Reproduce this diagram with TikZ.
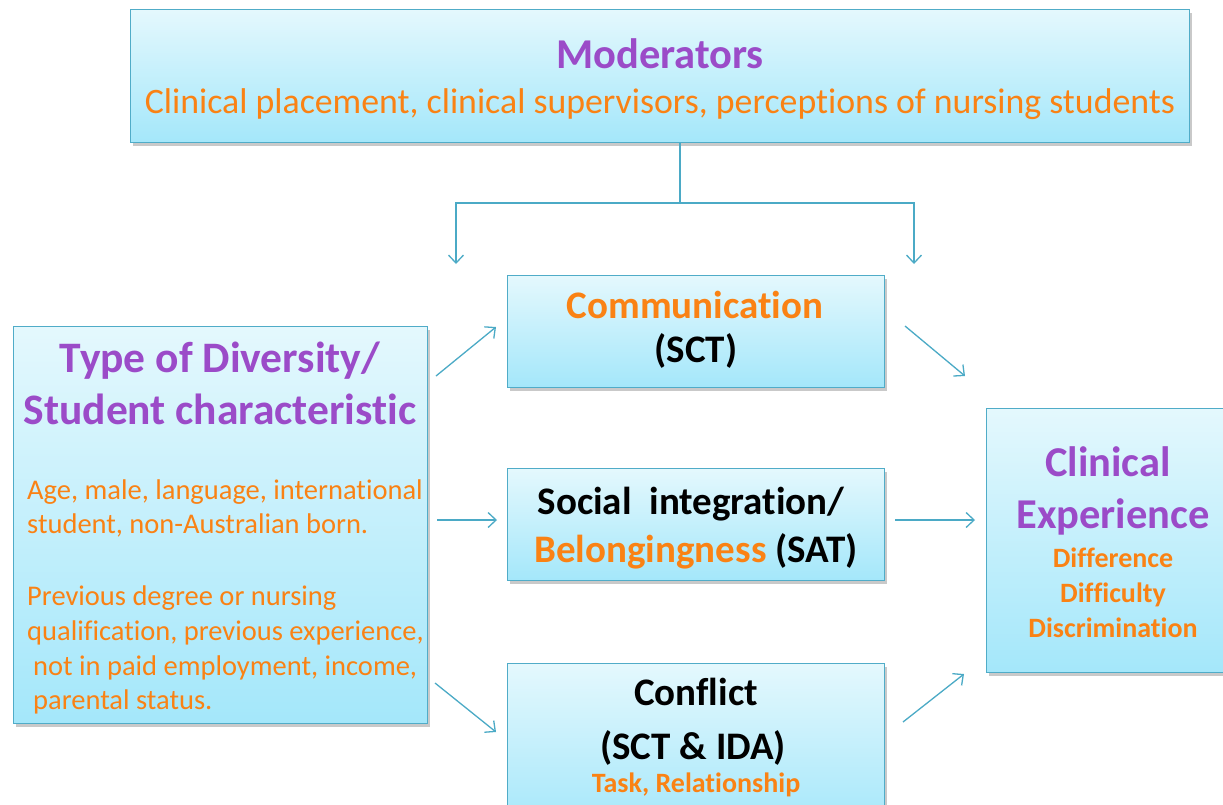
\documentclass[tikz,border=0pt]{standalone}
\usepackage{fontspec}
\setmainfont{Carlito}[Ligatures={NoCommon}]
\usetikzlibrary{shadows,arrows.meta}
\definecolor{bord}{RGB}{80,172,200}
\definecolor{acol}{RGB}{75,170,198}
\definecolor{ftop}{RGB}{228,248,253}
\definecolor{fbot}{RGB}{164,231,250}
\definecolor{purp}{RGB}{155,75,200}
\definecolor{oran}{RGB}{250,130,20}
\tikzset{
  box/.style={draw=bord, line width=1.2pt, top color=ftop, bottom color=fbot,
    drop shadow={shadow xshift=2pt, shadow yshift=-3pt, opacity=0.35, fill=black!60},
    anchor=north west, inner sep=0pt},
  txt/.style={anchor=base, inner sep=0pt},
  lbl/.style={anchor=base west, inner sep=0pt, text=oran, font=\fontsize{28.5}{34}\selectfont},
  conn/.style={draw=acol, line width=1.3pt},
  arr/.style={conn, -{Straight Barb[length=8pt,width=15pt]}},
}
\begin{document}
\begin{tikzpicture}[x=1pt,y=-1pt]
\clip (0,0) rectangle (1223,804);
\fill[white] (0,0) rectangle (1223,804);
% boxes
\node[box, minimum width=1059pt, minimum height=133pt] (M) at (130,9) {};
\node[box, minimum width=414pt, minimum height=397pt] (L) at (13,326) {};
\node[box, minimum width=377pt, minimum height=112pt] (C) at (507,275) {};
\node[box, minimum width=377pt, minimum height=112pt] (S) at (507,468) {};
\node[box, minimum width=377pt, minimum height=167pt] (F) at (507,663) {};
\node[box, minimum width=259pt, minimum height=264pt] (R) at (986,408) {};
% moderators text
\node[txt, text=purp, font=\bfseries\fontsize{42.5}{50}\selectfont] (mt) at (660,68) {Moderators};
\node[txt, text=oran, font=\fontsize{35.8}{42}\selectfont] (ms) at (660,113) {Clinical placement, clinical supervisors, perceptions of nursing students};
% left box text
\node[txt, text=purp, font=\bfseries\fontsize{43.5}{50}\selectfont] (lt1) at (220,372) {Type of Diversity/};
\node[txt, text=purp, font=\bfseries\fontsize{43.5}{50}\selectfont] (lt2) at (220,424) {Student characteristic};
\node[lbl] (l1) at (27,499) {Age, male, language, international};
\node[lbl] (l2) at (27,533) {student, non-Australian born.};
\node[lbl] (l3) at (27,605) {Previous degree or nursing};
\node[lbl] (l4) at (27,640) {qualification, previous experience,};
\node[lbl] (l5) at (33,675) {not in paid employment, income,};
\node[lbl] (l6) at (33,709) {parental status.};
% communication
\node[txt, text=oran, font=\bfseries\fontsize{39}{46}\selectfont] (ct1) at (695,318) {Communication};
\node[txt, font=\bfseries\fontsize{39}{46}\selectfont] (ct2) at (696,362) {(SCT)};
% social
\node[txt, font=\bfseries\fontsize{39}{46}\selectfont] (st1) at (691,514) {Social\ \ integration/};
\node[txt, font=\bfseries\fontsize{39}{46}\selectfont] (st2) at (696,562) {\textcolor{oran}{Belongingness} (SAT)};
% conflict
\node[txt, font=\bfseries\fontsize{39}{46}\selectfont] (ft1) at (696,705) {Conflict};
\node[txt, font=\bfseries\fontsize{39}{46}\selectfont] (ft2) at (693,759) {(SCT \& IDA)};
\node[txt, text=oran, font=\bfseries\fontsize{28}{34}\selectfont] (ft3) at (696,792) {Task, Relationship};
% clinical experience
\node[txt, text=purp, font=\bfseries\fontsize{42.5}{50}\selectfont] (rt1) at (1108,476) {Clinical};
\node[txt, text=purp, font=\bfseries\fontsize{42.5}{50}\selectfont] (rt2) at (1113,528) {Experience};
\node[txt, text=oran, font=\bfseries\fontsize{28}{34}\selectfont] (rt3) at (1113,567) {Difference};
\node[txt, text=oran, font=\bfseries\fontsize{28}{34}\selectfont] (rt4) at (1113,602) {Difficulty};
\node[txt, text=oran, font=\bfseries\fontsize{28}{34}\selectfont] (rt5) at (1113,637) {Discrimination};
% top connector
\coordinate (split) at (680,203);
\coordinate (hl) at (456,203);
\coordinate (hr) at (914,203);
\coordinate (tl) at (456,264);
\coordinate (tr) at (914,264);
\draw[conn] (M.south -| split) -- (split);
\draw[arr] (split) -- (hl) -- (tl);
\draw[arr] (split) -- (hr) -- (tr);
% side arrows
\coordinate (a1s) at (436,376); \coordinate (a1e) at (496,327);
\coordinate (a2s) at (437,520); \coordinate (a2e) at (497,520);
\coordinate (a3s) at (435,683); \coordinate (a3e) at (496,732);
\coordinate (b1s) at (905,326); \coordinate (b1e) at (965,376);
\coordinate (b2s) at (895,520); \coordinate (b2e) at (975,520);
\coordinate (b3s) at (903,722); \coordinate (b3e) at (964,674);
\draw[arr] (a1s) -- (a1e);
\draw[arr] (a2s) -- (a2e);
\draw[arr] (a3s) -- (a3e);
\draw[arr] (b1s) -- (b1e);
\draw[arr] (b2s) -- (b2e);
\draw[arr] (b3s) -- (b3e);
\end{tikzpicture}
\end{document}
